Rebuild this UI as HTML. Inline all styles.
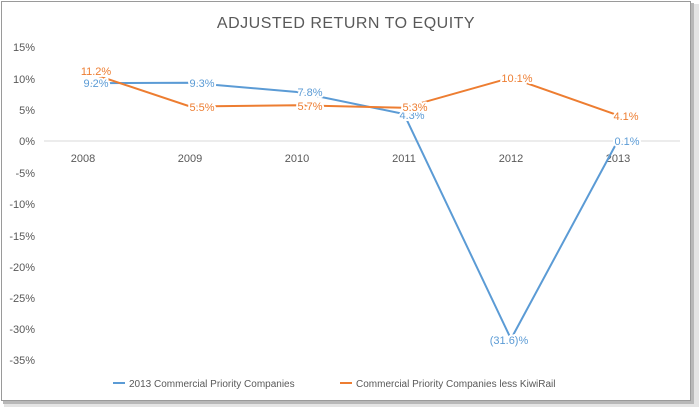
<!DOCTYPE html>
<html><head><style>
body{margin:0;background:#fff;}
text{font-family:"Liberation Sans",sans-serif;}
</style></head><body>
<svg width="699" height="407" xmlns="http://www.w3.org/2000/svg">
<rect x="0" y="0" width="699" height="407" fill="#fff"/>
<rect x="693" y="4" width="6" height="403" fill="#e4e4e4"/>
<rect x="4" y="402" width="695" height="5" fill="#e4e4e4"/>
<rect x="691" y="3" width="3" height="400" fill="#b8b8b8"/>
<rect x="3" y="401" width="691" height="3" fill="#b8b8b8"/>
<rect x="1.5" y="1.5" width="689" height="399" fill="#fff" stroke="#9a9a9a" stroke-width="1"/>
<text x="346" y="28" text-anchor="middle" font-size="16" fill="#595959" letter-spacing="0.5">ADJUSTED RETURN TO EQUITY</text>
<g font-size="11" fill="#595959" text-anchor="end">
<text x="35" y="51">15%</text><text x="35" y="83">10%</text><text x="35" y="114">5%</text><text x="35" y="145">0%</text>
<text x="35" y="177">-5%</text><text x="35" y="208">-10%</text><text x="35" y="240">-15%</text><text x="35" y="271">-20%</text>
<text x="35" y="302">-25%</text><text x="35" y="333">-30%</text><text x="35" y="364">-35%</text>
</g>
<line x1="44" y1="141" x2="680" y2="141" stroke="#d9d9d9" stroke-width="1"/>
<g font-size="11" fill="#595959" text-anchor="middle">
<text x="83" y="162">2008</text><text x="190" y="162">2009</text><text x="297" y="162">2010</text>
<text x="404" y="162">2011</text><text x="511" y="162">2012</text><text x="618" y="162">2013</text>
</g>
<polyline points="83,83.3 190,82.7 297,92 404,114 511,339 618,140.4" fill="none" stroke="#5b9bd5" stroke-width="2"/>
<polyline points="83,70.8 190,106.5 297,105.3 404,107.8 511,77.7 618,115.3" fill="none" stroke="#ed7d31" stroke-width="2"/>
<g font-size="11" text-anchor="middle" stroke="#fff" stroke-width="4" paint-order="stroke" stroke-linejoin="round">
<text x="96" y="87" fill="#5b9bd5">9.2%</text>
<text x="202" y="87" fill="#5b9bd5">9.3%</text>
<text x="310" y="96" fill="#5b9bd5">7.8%</text>
<text x="412" y="119" fill="#5b9bd5">4.3%</text>
<text x="509" y="344" fill="#5b9bd5">(31.6)%</text>
<text x="627" y="145" fill="#5b9bd5">0.1%</text>
<text x="96" y="75" fill="#ed7d31">11.2%</text>
<text x="202" y="111" fill="#ed7d31">5.5%</text>
<text x="310" y="110" fill="#ed7d31">5.7%</text>
<text x="415" y="111" fill="#ed7d31">5.3%</text>
<text x="517" y="82" fill="#ed7d31">10.1%</text>
<text x="626" y="120" fill="#ed7d31">4.1%</text>
</g>
<line x1="113" y1="383" x2="125" y2="383" stroke="#5b9bd5" stroke-width="2"/>
<text x="129" y="387" font-size="10" fill="#595959">2013 Commercial Priority Companies</text>
<line x1="340" y1="383" x2="352" y2="383" stroke="#ed7d31" stroke-width="2"/>
<text x="356" y="387" font-size="10" fill="#595959">Commercial Priority Companies less KiwiRail</text>
</svg>
</body></html>
